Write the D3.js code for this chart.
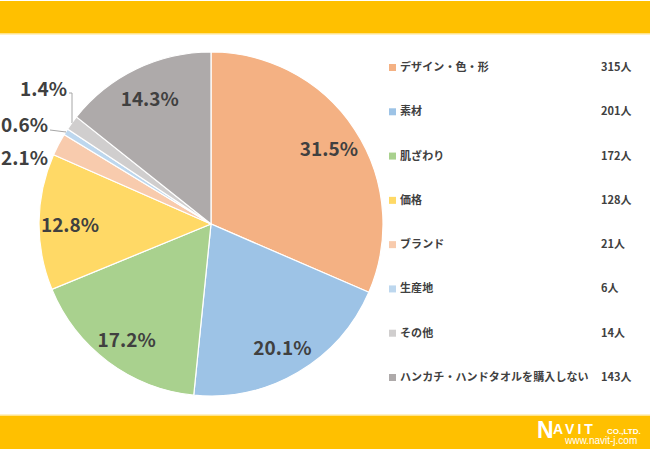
<!DOCTYPE html>
<meta charset="utf-8">
<script src="https://d3js.org/d3.v7.min.js"></script>
<style>
  body { margin: 0; background: #fff; }
  text { font-family: "Noto Sans CJK JP", "Noto Sans", sans-serif; }
</style>
<div id="my_dataviz"></div>
<script>

// data
var categories = ["デザイン・色・形", "素材", "肌ざわり", "価格", "ブランド", "生産地", "その他", "ハンカチ・ハンドタオルを購入しない"];
var counts = [315, 201, 172, 128, 21, 6, 14, 143];
var percents = ["31.5%", "20.1%", "17.2%", "12.8%", "2.1%", "0.6%", "1.4%", "14.3%"];
var colors = ["#F4B183", "#9DC3E6", "#A9D18E", "#FFD966", "#F8CBAD", "#BDD7EE", "#D0CECE", "#AEAAAA"];

var width = 650, height = 450;

var svg = d3.select("#my_dataviz")
  .append("svg")
    .attr("width", width)
    .attr("height", height);

// orange bands top and bottom
svg.append("rect").attr("x", 0).attr("y", 1).attr("width", width).attr("height", 32).style("fill", "#FFC000");
svg.append("rect").attr("x", 0).attr("y", 33).attr("width", width).attr("height", 1.5).style("fill", "#FFE38A");
svg.append("rect").attr("x", 0).attr("y", 414.5).attr("width", width).attr("height", 1.5).style("fill", "#FFE38A");
svg.append("rect").attr("x", 0).attr("y", 416).attr("width", width).attr("height", 33).style("fill", "#FFC000");

// pie
var cx = 211, cy = 224, r = 172;
var g = svg.append("g").attr("transform", "translate(" + cx + "," + cy + ")");

var pie = d3.pie().sort(null).value(function(d) { return d; });
var arcs = pie(counts);
var arc = d3.arc().innerRadius(0).outerRadius(r);
var labelArc = d3.arc().innerRadius(r * 0.82).outerRadius(r * 0.82);

g.selectAll("path")
  .data(arcs)
  .enter()
  .append("path")
    .attr("d", arc)
    .style("fill", function(d, i) { return colors[i]; })
    .style("stroke", "#fff")
    .style("stroke-width", 1.2);

// inside labels for big slices
g.selectAll(".lbl")
  .data(arcs.filter(function(d) { return counts[d.index] >= 100; }))
  .enter()
  .append("text")
    .attr("transform", function(d) { return "translate(" + labelArc.centroid(d) + ")"; })
    .attr("text-anchor", "middle")
    .attr("dy", "0.5em")
    .style("font-size", "19px")
    .style("font-weight", "bold")
    .style("fill", "#404040")
    .text(function(d) { return percents[d.index]; });

// outside labels for small slices (positions relative to pie centre)
var outside = [
  {i: 4, x: -163, y: -67, line: null},
  {i: 5, x: -163, y: -100, line: [[-161, -94], [-145, -92]]},
  {i: 6, x: -144, y: -136, line: [[-142, -131], [-139, -131], [-139, -102]]}
];
var outer = d3.arc().innerRadius(r).outerRadius(r);
outside.forEach(function(o) {
  if (o.line) {
    var end = outer.centroid(arcs[o.i]);
    var pts = o.line.slice();
    pts.push(end);
    g.append("path")
      .attr("d", d3.line()(pts))
      .style("fill", "none")
      .style("stroke", "#A6A6A6")
      .style("stroke-width", 1);
  }
  g.append("text")
    .attr("x", o.x)
    .attr("y", o.y)
    .attr("text-anchor", "end")
    .attr("dy", "0.4em")
    .style("font-size", "19px")
    .style("font-weight", "bold")
    .style("fill", "#404040")
    .text(percents[o.i]);
});

// legend
var legendY = d3.scalePoint().domain(categories).range([67, 377]);
var legend = svg.append("g");
var rows = legend.selectAll("g")
  .data(categories)
  .enter()
  .append("g")
    .attr("transform", function(d) { return "translate(0," + legendY(d) + ")"; });

rows.append("rect")
  .attr("x", 389).attr("y", -3).attr("width", 7).attr("height", 7)
  .style("fill", function(d, i) { return colors[i]; });
rows.append("text")
  .attr("x", 400).attr("dy", "0.36em")
  .style("font-size", "11px").style("font-weight", "bold").style("fill", "#404040")
  .style("letter-spacing", "0.1px")
  .text(function(d) { return d; });
rows.append("text")
  .attr("x", 601).attr("dy", "0.36em")
  .style("font-size", "11px").style("font-weight", "bold").style("fill", "#404040")
  .text(function(d, i) { return counts[i] + "人"; });

// logo
var logo = svg.append("g").attr("transform", "translate(537,420)");
logo.append("text").attr("x", 0).attr("y", 18)
  .style("font-family", "Liberation Sans, sans-serif")
  .style("font-size", "23px").style("font-weight", "900").style("fill", "#fff")
  .text("N");
logo.append("text").attr("x", 16).attr("y", 13.5)
  .style("font-family", "Liberation Sans, sans-serif")
  .style("font-size", "14px").style("font-weight", "bold").style("fill", "#fff")
  .style("letter-spacing", "3px")
  .text("AVIT");
logo.append("text").attr("x", 70).attr("y", 13.5)
  .style("font-family", "Liberation Sans, sans-serif")
  .style("font-size", "8px").style("font-weight", "bold").style("fill", "#fff")
  .text("CO.,LTD.");
logo.append("text").attr("x", 28).attr("y", 23.5)
  .style("font-family", "Liberation Sans, sans-serif")
  .style("font-size", "10px").style("fill", "#fff")
  .text("www.navit-j.com");

</script>
